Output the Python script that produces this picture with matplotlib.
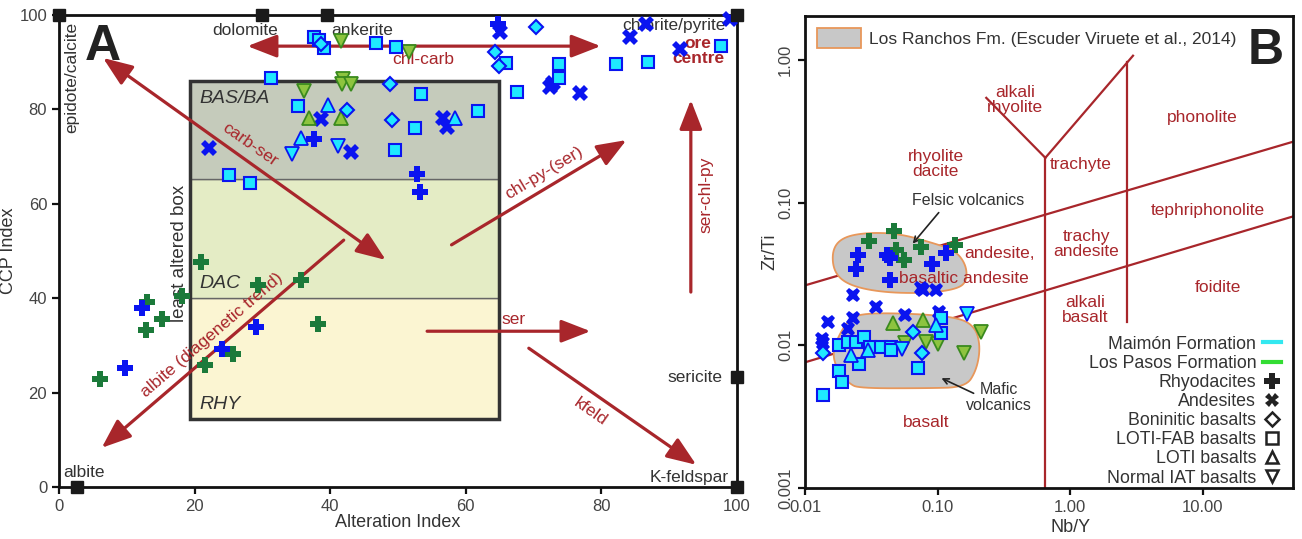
import numpy as np
import matplotlib
matplotlib.use('Agg')
import matplotlib.pyplot as plt
from matplotlib.patches import Rectangle, Polygon, Patch
from matplotlib.lines import Line2D

plt.rcParams['font.family'] = ['Liberation Sans', 'DejaVu Sans']

RED = '#a8262b'
CYAN = '#1fe8ff'
BLUE = '#0a14f0'
GREEN = '#1b7a3a'
LIME = '#8dc43f'
LIME_EDGE = '#3a8a1e'
TXT = '#333333'

# ---------------- panel A data (Alteration Index, CCP Index) ----------------
a_squares = [(37.6, 95.3), (38.4, 94.7), (39.1, 93.0), (46.8, 94.1), (49.7, 93.2),
             (31.3, 86.7), (53.4, 83.3), (35.3, 80.7), (52.5, 76.1), (49.6, 71.4),
             (25.1, 66.1), (28.2, 64.4), (66.0, 89.8), (73.8, 89.6), (73.7, 86.7),
             (67.6, 83.7), (82.1, 89.6), (86.9, 90.0), (97.6, 93.4), (61.8, 79.7)]
a_diamonds = [(38.7, 93.9), (48.8, 85.4), (42.5, 79.9), (49.1, 77.8), (70.3, 97.5),
              (64.3, 92.2), (64.9, 89.2)]
a_tri_up = [(39.7, 80.9), (35.7, 73.9), (58.4, 78.2)]
a_tri_dn = [(41.2, 72.2), (34.4, 70.6)]
a_plus_blue = [(37.6, 73.7), (52.8, 66.3), (53.2, 62.5), (64.7, 98.1), (9.8, 25.2),
               (12.2, 37.9), (29.1, 33.9), (24.1, 29.2)]
a_x_blue = [(38.7, 78.0), (43.1, 71.0), (22.1, 71.8), (65.1, 96.4), (72.4, 84.7),
            (72.9, 85.5), (76.9, 83.5), (84.3, 95.3), (86.6, 98.1), (91.6, 92.8),
            (99.0, 99.2), (56.6, 78.2), (57.2, 76.3)]
a_plus_green = [(6.0, 22.9), (13.0, 39.2), (12.9, 33.3), (15.2, 35.6), (18.1, 40.5),
                (21.0, 47.7), (29.3, 42.8), (35.7, 43.9), (38.2, 34.5), (25.6, 28.2),
                (21.5, 25.8)]
a_tri_up_green = [(36.9, 78.2), (41.6, 78.2)]
a_tri_dn_green = [(41.6, 94.5), (51.6, 92.2), (41.9, 86.5), (41.8, 85.3), (43.1, 85.3),
                  (36.2, 83.9)]

minerals = ['epidote/calcite', 'dolomite', 'ankerite', 'chlorite/pyrite', 'sericite',
            'K-feldspar', 'albite']
mineral_ai = [0, 30, 39.5, 100, 100, 100, 2.6]
mineral_ccp = [100, 100, 100, 100, 23.3, 0, 0]

box_ai = (19.3, 64.9)
box_ccp = (14.4, 40.0, 65.2, 86.0)

# trend arrows: (start, end, two-headed)
trends = [((6.5, 90.9), (48.2, 48.1), True),
          ((27.8, 93.4), (79.9, 93.4), True),
          ((57.9, 51.3), (83.7, 73.5), False),
          ((93.2, 41.3), (93.2, 82.0), False),
          ((54.3, 33.0), (78.4, 33.0), False),
          ((69.3, 29.4), (94.0, 4.7), False),
          ((42.0, 52.3), (6.3, 8.3), False)]

# ---------------- panel B data (Nb/Y, Zr/Ti) ----------------
b_plus_blue = [(0.025, 0.0426), (0.0242, 0.0345), (0.0414, 0.0426), (0.0436, 0.0406),
               (0.0902, 0.0374), (0.115, 0.044), (0.0436, 0.0285)]
b_plus_green = [(0.0303, 0.0542), (0.0467, 0.0637), (0.0483, 0.0469), (0.0554, 0.0393),
                (0.0745, 0.0492), (0.136, 0.0508)]
b_x_blue = [(0.0745, 0.0251), (0.077, 0.0245), (0.0966, 0.0246), (0.023, 0.0224),
            (0.0342, 0.0185), (0.0149, 0.0145), (0.023, 0.0155), (0.021, 0.0131),
            (0.057, 0.0162), (0.102, 0.0170), (0.0134, 0.011), (0.0137, 0.0103)]
b_squares = [(0.018, 0.0100), (0.021, 0.0105), (0.0242, 0.0105), (0.0278, 0.0114),
             (0.0308, 0.0098), (0.0373, 0.0098), (0.0443, 0.0097), (0.0443, 0.0092),
             (0.0255, 0.00736), (0.018, 0.00658), (0.019, 0.00551), (0.0137, 0.00447),
             (0.0708, 0.0069), (0.107, 0.0155), (0.107, 0.0121)]
b_diamonds = [(0.0137, 0.0089), (0.0649, 0.0123), (0.076, 0.0089)]
b_tri_up = [(0.0222, 0.0085), (0.0297, 0.0092), (0.0966, 0.0138)]
b_tri_dn = [(0.0536, 0.0094), (0.168, 0.0167)]
b_tri_up_green = [(0.0459, 0.0143), (0.077, 0.0150)]
b_tri_dn_green = [(0.057, 0.0103), (0.0813, 0.0105), (0.100, 0.0102), (0.214, 0.0123),
                  (0.157, 0.0088)]

# Los Ranchos Fm. fields, outline in log10 units
felsic_lx = [-1.797, -1.722, -1.541, -1.293, -1.045, -0.865, -0.782, -0.782, -0.865,
             -1.090, -1.421, -1.669, -1.782]
felsic_ly = [-1.336, -1.245, -1.210, -1.217, -1.280, -1.336, -1.441, -1.559, -1.608,
             -1.636, -1.629, -1.580, -1.490]
mafic_lx = [-1.797, -1.692, -1.594, -1.218, -0.842, -0.714, -0.677, -0.707, -0.789,
            -1.090, -1.594, -1.669, -1.759]
mafic_ly = [-2.035, -1.839, -1.776, -1.776, -1.804, -1.874, -2.014, -2.175, -2.294,
            -2.301, -2.301, -2.266, -2.175]

# classification field boundaries (Pearce 1996)
field_lines = [([0.01, 48], [0.0263, 0.267]),
               ([0.01, 48], [0.0076, 0.080]),
               ([0.65, 0.65], [0.001, 0.206]),
               ([2.69, 2.69], [0.0145, 0.96]),
               ([0.233, 0.65], [0.542, 0.206]),
               ([0.65, 2.98], [0.206, 1.07])]
field_names = ['rhyolite\ndacite', 'alkali\nrhyolite', 'trachyte', 'phonolite',
               'trachy\nandesite', 'tephriphonolite', 'andesite,', 'basaltic andesite',
               'alkali\nbasalt', 'foidite', 'basalt']
field_x = [0.0966, 0.385, 1.21, 10.0, 1.32, 10.9, 0.292, 0.157, 1.30, 13.0, 0.0826]
field_y = [0.1876, 0.525, 0.184, 0.393, 0.0516, 0.0879, 0.0440, 0.0294, 0.0176, 0.0255,
           0.0029]

STYLE = {
    'sq': dict(marker='s', ms=9, mfc=CYAN, mec=BLUE, mew=1.5),
    'di': dict(marker='D', ms=7, mfc=CYAN, mec=BLUE, mew=1.5),
    'tu': dict(marker='^', ms=10, mfc=CYAN, mec=BLUE, mew=1.3),
    'td': dict(marker='v', ms=10, mfc=CYAN, mec=BLUE, mew=1.3),
    'pb': dict(marker='P', ms=12, mfc=BLUE, mec=BLUE, mew=0),
    'xb': dict(marker='X', ms=11, mfc=BLUE, mec=BLUE, mew=0),
    'pg': dict(marker='P', ms=12, mfc=GREEN, mec=GREEN, mew=0),
    'tug': dict(marker='^', ms=10, mfc=LIME, mec=LIME_EDGE, mew=1.3),
    'tdg': dict(marker='v', ms=10, mfc=LIME, mec=LIME_EDGE, mew=1.3),
}


def plot_pts(ax, pts, key, scale=1.0):
    x, y = zip(*pts)
    st = dict(STYLE[key])
    st['ms'] = st['ms'] * scale
    ax.plot(x, y, ls='none', zorder=5, clip_on=False, **st)


def smooth(xs, ys, n=3):
    # chaikin corner cutting on a closed outline
    p = np.column_stack([xs, ys])
    for _ in range(n):
        q = np.roll(p, -1, axis=0)
        p = np.stack([0.75 * p + 0.25 * q, 0.25 * p + 0.75 * q], axis=1).reshape(-1, 2)
    return p


def style_axes(ax):
    for s in ax.spines.values():
        s.set_linewidth(2.0)
        s.set_color('#111111')
    ax.tick_params(direction='out', length=5, width=1.6, colors='#111111',
                   labelcolor='#444444', labelsize=12)


fig = plt.figure(figsize=(13.02, 5.39), dpi=100)

# ---------------- panel A ----------------
axA = fig.add_axes([0.0453, 0.0965, 0.5207, 0.8757])
axA.set_xlim(0, 100)
axA.set_ylim(0, 100)
style_axes(axA)
axA.set_xticks(range(0, 101, 20))
axA.set_yticks(range(0, 101, 20))
axA.set_xlabel('Alteration Index', fontsize=13, color='#333333', labelpad=0)
axA.set_ylabel('CCP Index', fontsize=13, color='#333333', labelpad=2)

fills = ['#fbf5d2', '#e4ecc5', '#c5cbbb']
for i, c in enumerate(fills):
    axA.add_patch(Rectangle((box_ai[0], box_ccp[i]), box_ai[1] - box_ai[0],
                            box_ccp[i + 1] - box_ccp[i], facecolor=c, edgecolor='#666666',
                            lw=1.0, zorder=1))
axA.add_patch(Rectangle((box_ai[0], box_ccp[0]), box_ai[1] - box_ai[0],
                        box_ccp[-1] - box_ccp[0], facecolor='none', edgecolor='#333333',
                        lw=2.5, zorder=1.5))
axA.text(20.7, 82.4, 'BAS/BA', fontsize=14, style='italic', color=TXT, va='center')
axA.text(20.7, 43.2, 'DAC', fontsize=14, style='italic', color=TXT, va='center')
axA.text(20.7, 17.4, 'RHY', fontsize=14, style='italic', color=TXT, va='center')
axA.text(17.8, 49.4, 'least altered box', fontsize=13.5, color=TXT, rotation=90,
         ha='center', va='center', zorder=4)

for start, end, both in trends:
    style = '<|-|>' if both else '-|>'
    axA.annotate('', xy=end, xytext=start, zorder=3,
                 arrowprops=dict(arrowstyle=f'{style},head_length=0.9,head_width=0.35',
                                 color=RED, lw=2.3, mutation_scale=20,
                                 shrinkA=0, shrinkB=0))

red_kw = dict(fontsize=12.5, color=RED, ha='center', va='center', zorder=4)
axA.text(28.2, 72.5, 'carb-ser', rotation=-35, **red_kw)
axA.text(53.7, 90.5, 'chl-carb', **red_kw)
axA.text(71.5, 66.5, 'chl-py-(ser)', rotation=31, **red_kw)
axA.text(95.4, 61.9, 'ser-chl-py', rotation=90, **red_kw)
axA.text(67.1, 35.4, 'ser', **red_kw)
axA.text(78.4, 15.9, 'kfeld', rotation=-35, **red_kw)
axA.text(22.6, 32.2, 'albite (diagenetic trend)', rotation=40.7, **red_kw)
axA.text(94.3, 92.4, 'ore\ncentre', fontsize=12.5, color=RED, fontweight='bold',
         ha='center', va='center', multialignment='center', linespacing=1.05, zorder=4)

plot_pts(axA, a_plus_green, 'pg')
plot_pts(axA, a_plus_blue, 'pb')
plot_pts(axA, a_x_blue, 'xb')
plot_pts(axA, a_tri_up_green, 'tug')
plot_pts(axA, a_tri_dn_green, 'tdg')
plot_pts(axA, a_squares, 'sq')
plot_pts(axA, a_diamonds, 'di')
plot_pts(axA, a_tri_up, 'tu')
plot_pts(axA, a_tri_dn, 'td')

axA.plot(mineral_ai, mineral_ccp, ls='none', marker='s', ms=8, color='#1a1a1a',
         clip_on=False, zorder=6)
min_kw = dict(fontsize=12.5, color=TXT, zorder=4)
axA.text(1.9, 98.5, minerals[0], rotation=90, ha='center', va='top', **min_kw)
axA.text(27.4, 96.8, minerals[1], ha='center', va='center', **min_kw)
axA.text(44.7, 96.8, minerals[2], ha='center', va='center', **min_kw)
axA.text(98.4, 97.7, minerals[3], ha='right', va='center', **min_kw)
axA.text(97.9, 23.3, minerals[4], ha='right', va='center', **min_kw)
axA.text(98.8, 2.0, minerals[5], ha='right', va='center', **min_kw)
axA.text(0.7, 3.0, minerals[6], ha='left', va='center', **min_kw)
axA.text(3.8, 93.2, 'A', fontsize=36, fontweight='bold', color='#222222',
         ha='left', va='center', zorder=4)

# ---------------- panel B ----------------
axB = fig.add_axes([0.6183, 0.0946, 0.3748, 0.8757])
axB.set_xscale('log')
axB.set_yscale('log')
axB.set_xlim(0.01, 48)
axB.set_ylim(0.001, 2.03)
style_axes(axB)
axB.minorticks_off()
axB.set_xticks([0.01, 0.1, 1, 10])
axB.set_xticklabels(['0.01', '0.10', '1.00', '10.00'])
axB.set_yticks([0.001, 0.01, 0.1, 1])
axB.set_yticklabels(['0.001', '0.01', '0.10', '1.00'], rotation=90, va='center')
axB.set_xlabel('Nb/Y', fontsize=13, color='#333333', labelpad=0)
axB.xaxis.set_label_coords(0.545, -0.065)
axB.set_ylabel('Zr/Ti', fontsize=13, color='#333333', labelpad=0)

for xs, ys in field_lines:
    axB.plot(xs, ys, color=RED, lw=1.6, zorder=1)
for name, fx, fy in zip(field_names, field_x, field_y):
    axB.text(fx, fy, name, fontsize=12.5, color=RED, ha='center', va='center',
             linespacing=1.0, zorder=3)

for lx, ly in [(felsic_lx, felsic_ly), (mafic_lx, mafic_ly)]:
    pts = 10 ** smooth(lx, ly)
    axB.add_patch(Polygon(pts, closed=True, facecolor='#c8c8c8', edgecolor='#e8975a',
                          lw=1.3, zorder=2))

axB.annotate('', xy=(0.0649, 0.0516), xytext=(0.102, 0.0851), zorder=4,
             arrowprops=dict(arrowstyle='->', color='#222222', lw=1.2,
                             shrinkA=0, shrinkB=0))
axB.text(0.171, 0.103, 'Felsic volcanics', fontsize=11.5, color=TXT, ha='center',
         va='center')
axB.annotate('', xy=(0.107, 0.00588), xytext=(0.187, 0.00461), zorder=4,
             arrowprops=dict(arrowstyle='->', color='#222222', lw=1.2,
                             shrinkA=0, shrinkB=0))
axB.text(0.288, 0.00433, 'Mafic\nvolcanics', fontsize=11.5, color=TXT, ha='center',
         va='center', linespacing=1.1)

plot_pts(axB, b_plus_green, 'pg', 0.95)
plot_pts(axB, b_plus_blue, 'pb', 0.95)
plot_pts(axB, b_x_blue, 'xb', 0.95)
plot_pts(axB, b_tri_up_green, 'tug', 0.95)
plot_pts(axB, b_tri_dn_green, 'tdg', 0.95)
plot_pts(axB, b_squares, 'sq', 0.95)
plot_pts(axB, b_diamonds, 'di', 0.95)
plot_pts(axB, b_tri_up, 'tu', 0.95)
plot_pts(axB, b_tri_dn, 'td', 0.95)

axB.text(0.98, 0.975, 'B', transform=axB.transAxes, fontsize=36, fontweight='bold',
         color='#222222', ha='right', va='top', zorder=6)

leg_top = axB.legend(handles=[Patch(facecolor='#c8c8c8', edgecolor='#e8975a', lw=1.3)],
                     labels=['Los Ranchos Fm. (Escuder Viruete et al., 2014)'],
                     loc='upper left', frameon=False, fontsize=12.5,
                     handlelength=2.5, handleheight=1.4, borderaxespad=0.3,
                     handletextpad=0.5, labelcolor=TXT)
axB.add_artist(leg_top)

leg_labels = ['Maimón Formation', 'Los Pasos Formation', 'Rhyodacites', 'Andesites',
              'Boninitic basalts', 'LOTI-FAB basalts', 'LOTI basalts', 'Normal IAT basalts']
DK = '#222222'
leg_handles = [Line2D([], [], color='#33e8f0', lw=3),
               Line2D([], [], color='#33dd33', lw=3),
               Line2D([], [], ls='none', marker='P', ms=11, color=DK, mew=0),
               Line2D([], [], ls='none', marker='X', ms=10, color=DK, mew=0),
               Line2D([], [], ls='none', marker='D', ms=7, mfc='white', mec=DK, mew=1.8),
               Line2D([], [], ls='none', marker='s', ms=9, mfc='white', mec=DK, mew=1.8),
               Line2D([], [], ls='none', marker='^', ms=9, mfc='white', mec=DK, mew=1.8),
               Line2D([], [], ls='none', marker='v', ms=9, mfc='white', mec=DK, mew=1.8)]
axB.legend(handles=leg_handles, labels=leg_labels, loc='lower right', frameon=False,
           markerfirst=False, fontsize=12.8, handlelength=1.0, handletextpad=0.4,
           labelspacing=0.12, borderaxespad=0.0, bbox_to_anchor=(0.99, -0.012),
           labelcolor=TXT)

fig.savefig('out.png', dpi=100)
